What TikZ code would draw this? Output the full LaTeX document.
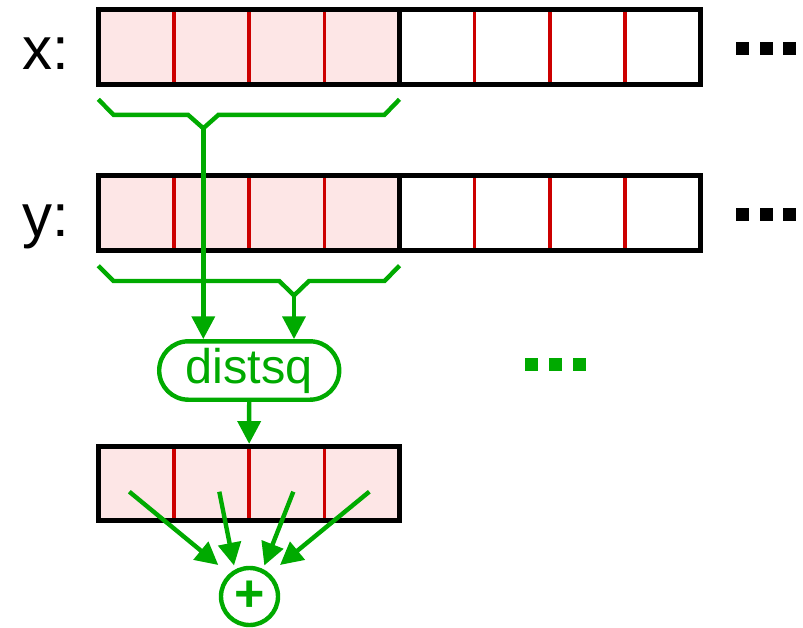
\documentclass[tikz,border=0pt]{standalone}
\usepackage{fontspec}
\setmainfont{Liberation Sans}
\usetikzlibrary{arrows.meta,shapes.misc}
\definecolor{grn}{RGB}{0,170,0}
\definecolor{rd}{RGB}{204,0,0}
\definecolor{pnk}{RGB}{253,230,230}
\tikzset{
  boxline/.style={draw=black,line width=3.6pt},
  divline/.style={draw=rd,line width=2.6pt},
  gline/.style={draw=grn,line width=3.3pt},
  garrow/.style={gline,-{Triangle[length=17pt,width=17pt]}},
  dotsq/.style={minimum size=9.75pt,inner sep=0pt,outer sep=0pt},
  lbl/.style={font=\fontsize{45}{54}\selectfont,inner sep=0pt,anchor=base}
}
\begin{document}
\begin{tikzpicture}[x=0.75pt,y=-0.75pt]
\useasboundingbox (0,0) rectangle (803,628);
% x row
\fill[pnk] (98.5,9.8) rectangle (399.3,84.6);
\foreach \xx in {174,249.2,324.4,474.6,549.8,625} \draw[divline] (\xx,9.8) -- (\xx,84.6);
\draw[boxline] (98.5,9.8) rectangle (700.5,84.6);
\draw[boxline] (399.3,9.8) -- (399.3,84.6);
\node[lbl] (xl) at (45.5,69) {x:};
% y row
\fill[pnk] (98.5,175.8) rectangle (399.3,250.3);
\foreach \xx in {174,249.2,324.4,474.6,549.8,625} \draw[divline] (\xx,175.8) -- (\xx,250.3);
\draw[boxline] (98.5,175.8) rectangle (700.5,250.3);
\draw[boxline] (399.3,175.8) -- (399.3,250.3);
\node[lbl] (yl) at (45.5,236) {y:};
% black dots
\foreach \xx in {742.5,766.5,789.5} {
  \node[dotsq,fill=black] at (\xx,48.3) {};
  \node[dotsq,fill=black] at (\xx,214.5) {};
}
% green dots
\foreach \xx in {531.5,555.5,579.5} \node[dotsq,fill=grn] at (\xx,364.5) {};
% distsq node
\node[rounded rectangle,draw=grn,line width=3.3pt,minimum width=135pt,minimum height=43.8pt,inner sep=0pt,
      text=grn,font=\fontsize{36.5}{40}\selectfont] (ds) at (249.2,370.5) {distsq};
% braces
\coordinate (xt) at (203.3,128.3);
\coordinate (yt) at (294,295.5);
\draw[gline] (98.3,99.3) -- (113.5,114.8) -- (188,114.8) -- (xt) -- (218.5,114.8) -- (384.5,114.8) -- (399.5,99.3);
\draw[gline] (98.3,265.7) -- (113.5,281) -- (279.3,281) -- (yt) -- (309,281) -- (384.5,281) -- (399.5,265.7);
\draw[garrow] (xt) -- (xt |- ds.north);
\draw[garrow] (yt) -- (yt |- ds.north);
% accumulator box
\fill[pnk] (98.5,446.3) rectangle (399.8,520.8);
\foreach \xx in {174,249.2,324.4} \draw[divline] (\xx,446.3) -- (\xx,520.8);
\node[boxline,minimum width=226pt,minimum height=55.9pt,inner sep=0pt] (acc) at (249.15,483.55) {};
\draw[garrow] (ds.south) -- (acc.north);
% sum node
\node[circle,draw=grn,line width=3.3pt,minimum size=42.75pt,inner sep=0pt,text=grn,
      font=\fontsize{39}{44}\selectfont\bfseries] (sum) at (249.5,596.5) {\raisebox{-1.5pt}{+}};
\coordinate (s1) at (129.3,491.7); \coordinate (t1) at (218.3,565);
\coordinate (s2) at (219.3,491.7); \coordinate (t2) at (234,565.5);
\coordinate (s3) at (293.3,491.7); \coordinate (t3) at (264.3,565.5);
\coordinate (s4) at (369.3,491.7); \coordinate (t4) at (280,565);
\foreach \i in {1,2,3,4} \draw[garrow] (s\i) -- (t\i);
\end{tikzpicture}
\end{document}
